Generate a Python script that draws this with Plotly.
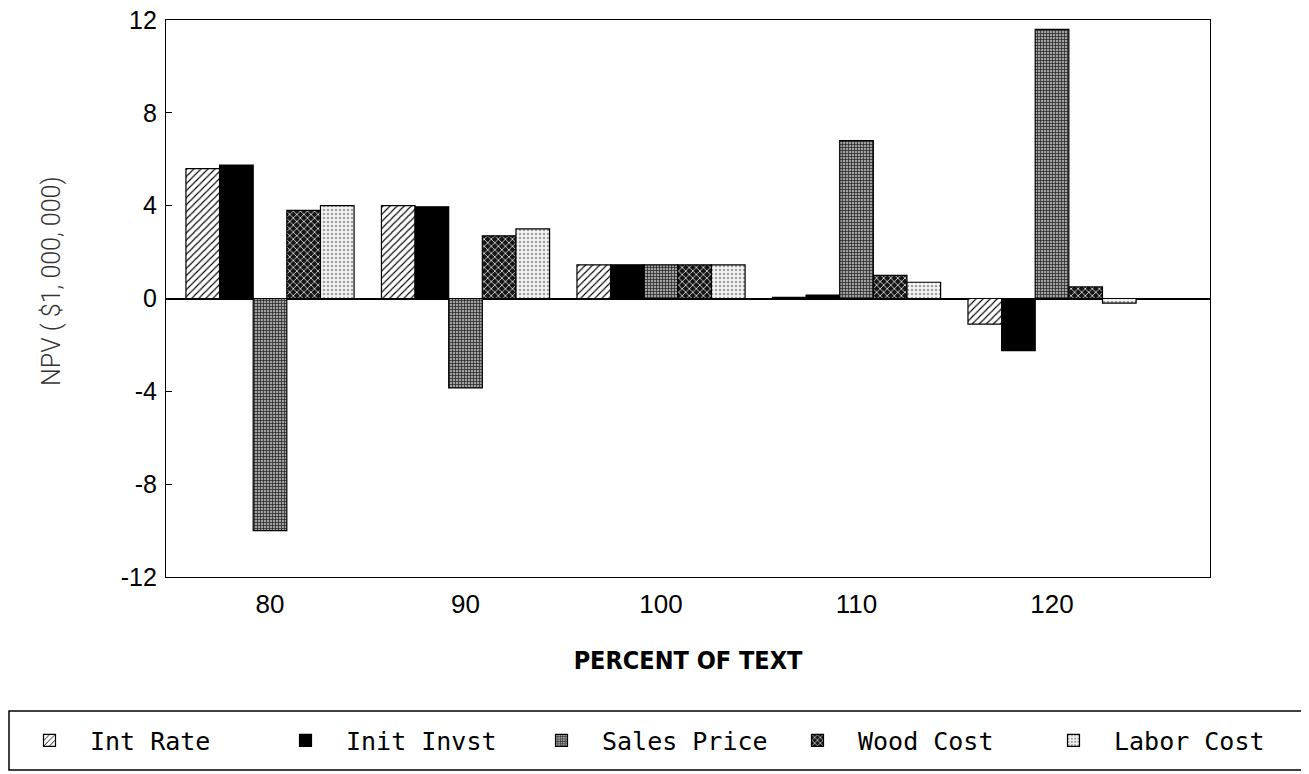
import plotly.graph_objects as go

categories = [80, 90, 100, 110, 120]
int_rate = [5.6, 4.0, 1.45, 0.05, -1.1]
init_invst = [5.75, 3.95, 1.45, 0.15, -2.25]
sales_price = [-10.0, -3.85, 1.45, 6.8, 11.6]
wood_cost = [3.8, 2.7, 1.45, 1.0, 0.5]
labor_cost = [4.0, 3.0, 1.45, 0.7, -0.2]
y_ticks = [-12, -8, -4, 0, 4, 8, 12]
y_ticktext = [str(v) for v in y_ticks]
x_title = "PERCENT OF TEXT"
y_title = "NPV ( $1, 000, 000)"

series = [
    ("Int Rate", int_rate, dict(shape="/", fgcolor="black", bgcolor="white", size=5, solidity=0.22), 170),
    ("Init Invst", init_invst, None, 170),
    ("Sales Price", sales_price, dict(shape="+", fgcolor="#1e1e1e", bgcolor="#a0a0a0", size=3, solidity=0.4), 170),
    ("Wood Cost", wood_cost, dict(shape="x", fgcolor="#e0e0e0", bgcolor="#161616", size=5, solidity=0.3), 170),
    ("Labor Cost", labor_cost, dict(shape=".", fgcolor="#a0a0a0", bgcolor="#f4f4f4", size=4, solidity=0.3), 178),
]

fig = go.Figure()
for name, vals, pat, lw in series:
    marker = dict(line=dict(color="black", width=1.2))
    if pat is None:
        marker["color"] = "black"
    else:
        marker["color"] = pat["bgcolor"]
        marker["pattern"] = dict(shape=pat["shape"], fgcolor=pat["fgcolor"], bgcolor=pat["bgcolor"],
                                 size=pat["size"], solidity=pat["solidity"], fillmode="replace")
    fig.add_trace(go.Bar(x=categories, y=vals, name=name, marker=marker, legendwidth=lw))

# legend frame
fig.add_shape(type="rect", xref="paper", yref="paper", x0=0, x1=1, y0=0, y1=0.0787,
              line=dict(color="black", width=1.5), fillcolor="rgba(0,0,0,0)", layer="below")

# y-axis title as an annotation for exact placement
fig.add_annotation(text=y_title, xref="paper", yref="paper", x=0.0324, y=0.652,
                   xanchor="center", yanchor="middle", textangle=-90, showarrow=False,
                   font=dict(size=25, family="Roboto, Lato, sans-serif", color="#333333", weight=300))

fig.update_layout(
    width=1301, height=766,
    margin=dict(l=1, r=4, t=12, b=4, autoexpand=False),
    paper_bgcolor="white", plot_bgcolor="white",
    barmode="group", bargap=0.14, bargroupgap=0,
    font=dict(family="Liberation Sans, Arial, sans-serif", color="black"),
    showlegend=True,
    legend=dict(
        orientation="h", x=0, xanchor="left", y=0.0393, yanchor="middle",
        borderwidth=0, bgcolor="rgba(0,0,0,0)",
        font=dict(family="DejaVu Sans Mono, Liberation Mono, monospace", size=25, color="black"),
        entrywidthmode="pixels", itemwidth=71,
        traceorder="normal",
    ),
    xaxis=dict(
        domain=[0.12114, 0.92670],
        range=[74.68, 128.08], tickvals=categories, ticktext=[str(c) for c in categories],
        showline=True, mirror=True, linecolor="black", linewidth=1.2,
        showgrid=False, zeroline=False, ticks="", ticklabelstandoff=4,
        tickfont=dict(size=26, family="Liberation Sans, Arial, sans-serif"),
        title=dict(text="<b>" + x_title + "</b>", standoff=33,
                   font=dict(size=25, family="DejaVu Sans Condensed, Liberation Sans Narrow, sans-serif")),
    ),
    yaxis=dict(
        domain=[0.25733, 1],
        range=[-12, 12], tickvals=y_ticks, ticktext=y_ticktext,
        showline=True, mirror=True, linecolor="black", linewidth=1.2,
        showgrid=False, zeroline=True, zerolinecolor="black", zerolinewidth=1.5,
        ticks="inside", ticklen=6, tickcolor="black", ticklabelstandoff=3,
        ticklabeloverflow="allow",
        tickfont=dict(size=25, family="Liberation Sans, Arial, sans-serif"),
    ),
)

fig.write_html("out.html")
